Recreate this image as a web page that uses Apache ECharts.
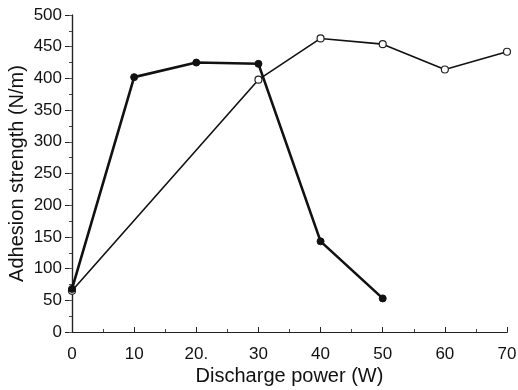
<!DOCTYPE html>
<html>
<head>
<meta charset="utf-8">
<script src="https://cdn.jsdelivr.net/npm/echarts@6/dist/echarts.min.js"></script>
<style>html,body{margin:0;padding:0;background:#fff}#c{width:518px;height:390px}</style>
</head>
<body>
<div id="c"></div>
<script>
const xTickLabels = ['0','10','20.','30','40','50','60','70'];
const filledX = [0, 10, 20, 30, 40, 50];
const filledY = [68, 402, 425, 423, 143, 53];
const openX = [0, 30, 40, 50, 60, 70];
const openY = [65, 398, 463, 454, 414, 442];

const chart = echarts.init(document.getElementById('c'), null, {renderer:'canvas'});
const font = 'Liberation Sans, Arial, sans-serif';
const axisLine = {show:true, lineStyle:{color:'#222', width:1.2}};
chart.setOption({
  animation:false,
  backgroundColor:'#fff',
  grid:{left:72, right:11, top:15, bottom:58, containLabel:false, outerBoundsMode:'none'},
  xAxis:[{
    type:'value', min:0, max:70, interval:10,
    name:'Discharge power (W)', nameLocation:'middle', nameGap:34, nameMoveOverlap:false,
    nameTextStyle:{fontFamily:font, fontSize:20, color:'#111'},
    axisLine:axisLine,
    axisTick:{show:true, inside:true, length:5, lineStyle:{color:'#222'}},
    minorTick:{show:true, splitNumber:2, length:3, lineStyle:{color:'#444'}},
    splitLine:{show:false},
    axisLabel:{fontFamily:font, fontSize:17, color:'#111', margin:14,
      formatter:(v)=>xTickLabels[Math.round(v/10)]}
  },{
    type:'value', min:0, max:70, position:'top',
    axisLine:axisLine, axisTick:{show:false}, axisLabel:{show:false}, splitLine:{show:false}
  }],
  yAxis:[{
    type:'value', min:0, max:500, interval:50,
    name:'Adhesion strength (N/m)', nameLocation:'middle', nameGap:45, nameMoveOverlap:false,
    nameTextStyle:{fontFamily:font, fontSize:20, color:'#111'},
    axisLine:axisLine,
    axisTick:{show:true, inside:false, length:7, lineStyle:{color:'#222'}},
    minorTick:{show:true, splitNumber:2, length:3, lineStyle:{color:'#444'}},
    splitLine:{show:false},
    axisLabel:{fontFamily:font, fontSize:17, color:'#111', margin:10}
  },{
    type:'value', min:0, max:500, interval:50, position:'right',
    axisLine:axisLine,
    axisTick:{show:true, inside:true, length:3, lineStyle:{color:'#555'}},
    axisLabel:{show:false}, splitLine:{show:false}
  }],
  series:[{
    type:'line',
    data:filledX.map((x,i)=>[x, filledY[i]]),
    symbol:'circle', symbolSize:7,
    itemStyle:{color:'#111', borderColor:'#111'},
    lineStyle:{color:'#111', width:2.6},
    z:3
  },{
    type:'line',
    data:openX.map((x,i)=>[x, openY[i]]),
    symbol:'circle', symbolSize:7,
    itemStyle:{color:'#fff', borderColor:'#222', borderWidth:1.2},
    lineStyle:{color:'#111', width:1.6},
    z:2
  }]
});
</script>
</body>
</html>
